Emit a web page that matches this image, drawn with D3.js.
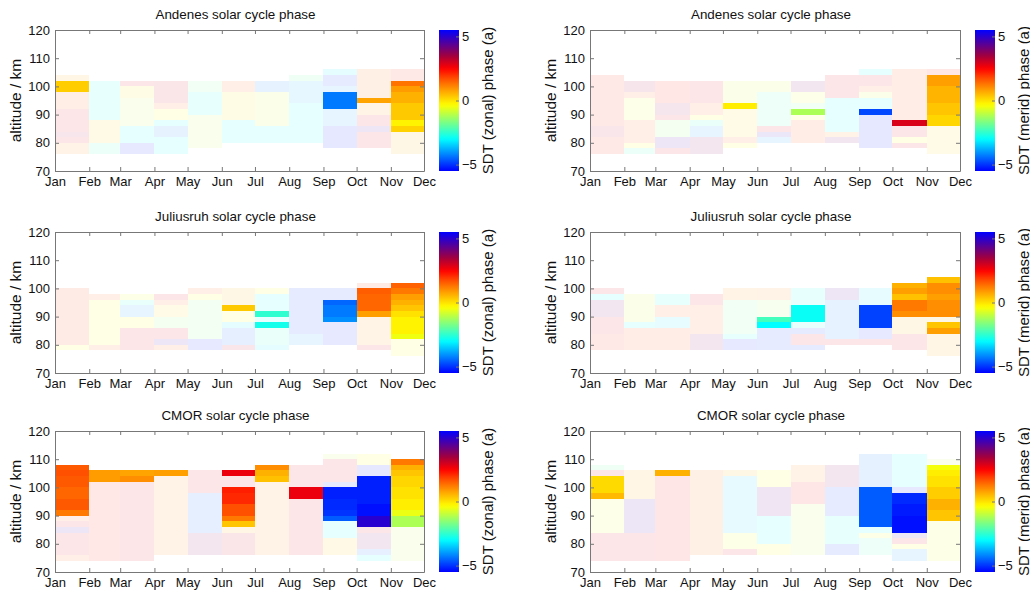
<!DOCTYPE html>
<html>
<head>
<meta charset="UTF-8">
<title>solar cycle phase</title>
<script src="https://d3js.org/d3.v7.min.js"></script>
<style>
  body { margin: 0; background: #fff; font-family: "Liberation Sans", Arial, sans-serif; }
  .axis path, .axis line { stroke: #777; }
  .axis text { fill: #111; font-size: 13px; font-family: "Liberation Sans", Arial, sans-serif; }
  .title { font-size: 13.4px; fill: #111; }
  .label { font-size: 15.5px; fill: #111; }
  .cblabel { font-size: 15px; fill: #111; }
</style>
</head>
<body>
<div id="chart"></div>
<script>
const months = ["Jan", "Feb", "Mar", "Apr", "May", "Jun", "Jul", "Aug", "Sep", "Oct", "Nov", "Dec"];
const altTicks = [70, 80, 90, 100, 110, 120];
const phaseTicks = [-5, 0, 5];

// one list per month column (Jan-Feb ... Nov-Dec): [alt low, alt high, phase (a), significant]
const andenesZonal = [
  [[76,80,1.2,0],[80,82,2.8,0],[82,84,3.3,0],[84,92,2.8,0],[92,98,1.6,0],[98,102,0.25,1],[102,104,0.8,0]],
  [[76,80,-2.3,0],[80,88,0.3,0],[88,102,-2.8,0]],
  [[76,80,-5.2,0],[80,86,-3.0,0],[86,96,-1.0,0],[96,100,0.0,0],[100,102,2.8,0]],
  [[76,82,-3.0,0],[82,86,-4.2,0],[86,88,-3.0,0],[88,92,-0.3,0],[92,94,1.5,0],[94,102,3.0,0]],
  [[78,90,-1.0,0],[90,98,-2.8,0],[98,102,-1.8,0]],
  [[80,88,-3.0,0],[88,98,0.0,0],[98,102,1.5,0]],
  [[80,86,-3.0,0],[86,98,-0.8,0],[98,102,-4.3,0]],
  [[80,94,-3.0,0],[94,102,-3.8,0],[102,104,-2.0,0]],
  [[78,86,-5.3,0],[86,92,-4.0,0],[92,98,-4.3,1],[98,100,-4.0,0],[100,104,-5.0,0],[104,106,-3.2,0]],
  [[78,84,2.8,0],[84,86,4.4,0],[86,90,2.8,0],[90,94,1.0,0],[94,96,0.75,1],[96,106,1.4,0]],
  [[76,84,0.6,0],[84,86,0.2,1],[86,88,-0.2,1],[88,94,0.3,1],[94,98,0.6,1],[98,100,0.85,1],[100,102,1.3,1],[102,106,2.2,0]]
];
const andenesMerid = [
  [[76,82,2.2,0],[82,86,3.2,0],[86,104,2.2,0]],
  [[76,78,-2.3,0],[78,80,-0.3,0],[80,88,1.5,0],[88,96,-0.6,0],[96,98,1.5,0],[98,102,3.5,0]],
  [[76,78,2.8,0],[78,82,4.6,0],[82,88,-1.5,0],[88,90,2.8,0],[90,94,3.6,0],[94,102,2.4,0]],
  [[76,82,3.8,0],[82,86,-4.0,0],[86,88,-2.5,0],[88,90,-0.3,0],[90,94,1.5,0],[94,102,2.8,0]],
  [[78,80,-0.3,0],[80,82,1.5,0],[82,92,0.2,0],[92,94,-0.15,1],[94,102,-0.8,0]],
  [[80,82,-4.0,0],[82,84,4.8,0],[84,86,2.8,0],[86,98,-2.2,0],[98,102,-0.8,0]],
  [[80,88,1.8,0],[88,90,-0.3,0],[90,92,-1.2,1],[92,94,-1.8,0],[94,98,-0.6,0],[98,102,4.0,0]],
  [[80,82,4.0,0],[82,84,1.2,0],[84,96,-3.0,0],[96,104,2.8,0]],
  [[78,90,-5.3,0],[90,92,-4.8,1],[92,96,-3.0,0],[96,98,-0.8,0],[98,100,1.5,0],[100,104,2.8,0],[104,106,-3.0,0]],
  [[78,80,2.8,0],[80,82,-0.3,0],[82,86,2.8,0],[86,88,2.9,1],[88,106,1.8,0]],
  [[76,86,0.2,0],[86,90,0.15,1],[90,94,0.35,1],[94,100,0.55,1],[100,104,0.8,1],[104,106,2.4,0]]
];
const juliusruhZonal = [
  [[78,80,-0.3,0],[80,100,2.0,0]],
  [[78,80,1.5,0],[80,96,-0.3,0],[96,98,1.5,0]],
  [[78,86,2.8,0],[86,90,-0.3,0],[90,94,-4.0,0],[94,96,-2.6,0],[96,98,-0.5,0]],
  [[78,80,1.5,0],[80,82,4.6,0],[82,86,2.8,0],[86,90,-1.5,0],[90,94,0.2,0],[94,96,1.5,0],[96,98,2.8,0]],
  [[78,82,-5.2,0],[82,96,-1.6,0],[96,98,-0.3,0],[98,100,1.5,0]],
  [[78,80,3.2,0],[80,86,-4.6,0],[86,88,-3.2,0],[88,92,-0.3,0],[92,94,0.3,1],[94,100,0.6,0]],
  [[78,80,-3.2,0],[80,86,-2.5,0],[86,88,-2.8,1],[88,90,-3.0,0],[90,92,-2.5,1],[92,98,-3.0,0],[98,100,-0.3,0]],
  [[80,84,-4.0,0],[84,100,-5.0,0]],
  [[80,88,-5.2,0],[88,90,-4.1,1],[90,94,-4.3,1],[94,96,-4.5,1],[96,100,-5.0,0]],
  [[78,80,2.8,0],[80,90,1.0,0],[90,92,0.8,1],[92,98,1.45,1],[98,100,1.55,1],[100,102,2.0,0]],
  [[76,82,-0.4,0],[82,84,-0.5,1],[84,90,-0.2,1],[90,92,0.0,1],[92,94,0.35,1],[94,96,0.6,1],[96,98,0.8,1],[98,100,1.25,1],[100,102,1.5,1]]
];
const juliusruhMerid = [
  [[78,84,2.2,0],[84,90,2.8,0],[90,96,4.0,0],[96,98,-3.0,0],[98,100,2.8,0]],
  [[78,86,1.8,0],[86,88,-3.0,0],[88,98,-0.8,0]],
  [[78,86,1.8,0],[86,90,-3.3,0],[90,94,1.5,0],[94,98,-2.8,0]],
  [[78,84,3.8,0],[84,94,1.5,0],[94,98,2.8,0]],
  [[78,82,-5.2,0],[82,84,-2.8,0],[84,96,-1.8,0],[96,100,1.0,0]],
  [[78,86,-5.0,0],[86,88,-3.0,1],[88,90,-2.3,1],[90,96,-1.2,0],[96,100,1.2,0]],
  [[78,80,-5.0,0],[80,84,2.8,0],[84,86,-5.0,0],[86,88,-2.8,0],[88,94,-2.9,1],[94,100,-2.8,0]],
  [[80,82,2.8,0],[82,96,-4.3,0],[96,100,4.4,0]],
  [[80,82,2.8,0],[82,86,-5.2,0],[86,94,-4.85,1],[94,100,-3.3,0]],
  [[78,84,2.8,0],[84,90,0.6,0],[90,92,1.0,1],[92,96,1.25,1],[96,98,0.4,1],[98,100,0.8,1],[100,102,0.6,1]],
  [[76,84,0.8,0],[84,86,0.8,1],[86,88,0.35,1],[88,90,0.6,0],[90,96,1.0,1],[96,98,0.8,1],[98,102,1.0,1],[102,104,0.4,1]]
];
const cmorZonal = [
  [[74,76,1.5,0],[76,84,2.8,0],[84,86,4.6,0],[86,88,2.8,0],[88,90,1.5,0],[90,92,1.25,1],[92,96,1.6,1],[96,100,1.45,1],[100,104,1.6,1],[104,106,1.7,1],[106,108,1.6,1]],
  [[74,102,2.3,0],[102,106,0.85,1]],
  [[74,102,2.8,0],[102,104,1.0,1],[104,106,0.75,1]],
  [[76,104,1.2,0],[104,106,0.8,1]],
  [[76,84,3.8,0],[84,98,-4.6,0],[98,106,2.8,0]],
  [[76,84,3.0,0],[84,86,0.8,0],[86,88,0.35,1],[88,90,1.25,1],[90,94,1.7,1],[94,98,2.1,1],[98,100,2.2,1],[100,104,2.8,0],[104,106,2.7,1]],
  [[76,102,1.2,0],[102,104,0.4,1],[104,106,0.6,1],[106,108,1.0,1]],
  [[76,96,2.8,0],[96,100,2.7,1],[100,108,2.8,0]],
  [[76,82,0.4,0],[82,88,-3.0,0],[88,90,-4.6,1],[90,92,-5.0,1],[92,96,-5.1,1],[96,100,-5.2,1],[100,102,-5.0,0],[102,110,2.8,0],[110,112,-1.0,0]],
  [[74,76,-3.0,0],[76,78,-4.5,0],[78,84,4.0,0],[84,86,2.8,0],[86,90,5.0,1],[90,94,-5.35,1],[94,104,-5.2,1],[104,108,-5.3,0],[108,112,-0.3,0]],
  [[74,86,-1.0,0],[86,90,-1.2,1],[90,92,-0.55,1],[92,96,-0.15,1],[96,100,0.0,1],[100,104,0.15,1],[104,106,0.35,1],[106,108,0.6,1],[108,110,1.25,1]]
];
const cmorMerid = [
  [[74,84,2.8,0],[84,96,-0.6,0],[96,98,0.5,1],[98,104,0.1,1],[104,106,2.8,0],[106,108,-2.0,0]],
  [[74,84,2.8,0],[84,96,4.6,0],[96,106,0.8,0]],
  [[74,104,2.6,0],[104,106,0.6,1]],
  [[76,106,1.4,0]],
  [[76,78,2.8,0],[78,84,-0.5,0],[84,104,-3.5,0],[104,106,0.6,0]],
  [[76,80,-0.3,0],[80,90,-3.0,0],[90,100,4.2,0],[100,106,-0.3,0]],
  [[76,94,-1.0,0],[94,102,2.5,0],[102,108,1.2,0]],
  [[76,80,-5.0,0],[80,90,-2.8,0],[90,100,-5.0,0],[100,108,3.8,0]],
  [[76,82,-2.2,0],[82,84,-0.5,0],[84,86,-3.0,0],[86,100,-4.6,1],[100,112,-4.4,0]],
  [[74,78,-4.0,0],[78,80,-0.3,0],[80,82,2.8,0],[82,84,4.6,0],[84,90,-5.35,1],[90,94,-5.25,1],[94,98,-5.1,1],[98,100,-5.2,0],[100,112,-3.0,0]],
  [[74,88,-0.5,0],[88,92,0.35,1],[92,96,0.6,1],[96,100,0.25,1],[100,104,0.0,1],[104,106,-0.15,1],[106,108,-0.45,1],[108,110,-1.0,0]]
];

const panels = [
  {title: "Andenes solar cycle phase", comp: "zonal", data: andenesZonal, row: 0, col: 0},
  {title: "Andenes solar cycle phase", comp: "merid", data: andenesMerid, row: 0, col: 1},
  {title: "Juliusruh solar cycle phase", comp: "zonal", data: juliusruhZonal, row: 1, col: 0},
  {title: "Juliusruh solar cycle phase", comp: "merid", data: juliusruhMerid, row: 1, col: 1},
  {title: "CMOR solar cycle phase", comp: "zonal", data: cmorZonal, row: 2, col: 0},
  {title: "CMOR solar cycle phase", comp: "merid", data: cmorMerid, row: 2, col: 1}
];

// cyclic jet-like colour map, -5.5 .. 5.5 years
const cmap = d3.scaleLinear()
  .domain([-5.5, -3.0, -1.65, -0.35, 0.8, 1.7, 2.5, 3.5, 4.5, 5.5])
  .range(["#0000ff", "#00ffff", "#80ff80", "#ffff00", "#ffa000", "#ff5000", "#ff0000", "#a00040", "#5000a0", "#0000ff"])
  .clamp(true);
const faded = 0.1;

const colX = [55, 590], colW = [369, 370];
const rowY = [30, 232, 431], plotH = 141;
const cbX = [439, 975], cbW = 20;

const svg = d3.select("#chart").append("svg")
  .attr("width", 1030).attr("height", 591);

const grad = svg.append("defs").append("linearGradient")
  .attr("id", "cbGrad").attr("x1", 0).attr("y1", 1).attr("x2", 0).attr("y2", 0);
d3.range(0, 1.0001, 0.02).forEach(t => {
  grad.append("stop").attr("offset", t).attr("stop-color", cmap(-5.5 + 11 * t));
});

const monthDates = months.map((m, i) => new Date(Date.UTC(2001, i, 1)));

panels.forEach(p => {
  const w = colW[p.col], h = plotH;
  const g = svg.append("g").attr("transform", `translate(${colX[p.col]},${rowY[p.row]})`);

  const x = d3.scaleUtc().domain([monthDates[0], monthDates[11]]).range([0, w]);
  const y = d3.scaleLinear().domain([70, 120]).range([h, 0]);

  const cells = [];
  p.data.forEach((col, i) => col.forEach(s => cells.push({i, lo: s[0], hi: s[1], v: s[2], sig: s[3]})));

  g.selectAll("rect.cell").data(cells).enter().append("rect")
    .attr("class", "cell")
    .attr("x", d => x(monthDates[d.i]))
    .attr("width", d => x(monthDates[d.i + 1]) - x(monthDates[d.i]))
    .attr("y", d => y(d.hi))
    .attr("height", d => y(d.lo) - y(d.hi))
    .attr("shape-rendering", "crispEdges")
    .attr("fill", d => d.sig ? cmap(d.v) : d3.interpolateRgb("#ffffff", cmap(d.v))(faded));

  g.append("g").attr("class", "axis").attr("transform", `translate(0,${h})`)
    .call(d3.axisBottom(x).tickValues(monthDates).tickFormat((d, i) => months[i])
      .tickSizeInner(-4).tickSizeOuter(0).tickPadding(6));
  g.append("g").attr("class", "axis")
    .call(d3.axisTop(x).tickValues(monthDates).tickFormat("").tickSizeInner(-4).tickSizeOuter(0));
  g.append("g").attr("class", "axis")
    .call(d3.axisLeft(y).tickValues(altTicks).tickSizeInner(-4).tickSizeOuter(0).tickPadding(5));
  g.append("g").attr("class", "axis").attr("transform", `translate(${w},0)`)
    .call(d3.axisRight(y).tickValues(altTicks).tickFormat("").tickSizeInner(-4).tickSizeOuter(0));

  g.append("text").attr("class", "title")
    .attr("x", w / 2 - 4).attr("y", -11)
    .attr("text-anchor", "middle")
    .text(p.title);

  g.append("text").attr("class", "label")
    .attr("transform", `translate(-39,${h / 2}) rotate(-90)`)
    .attr("text-anchor", "middle").attr("dy", "0.35em")
    .text("altitude / km");

  // colour bar
  const cb = svg.append("g").attr("transform", `translate(${cbX[p.col]},${rowY[p.row]})`);
  const cy = d3.scaleLinear().domain([-5.5, 5.5]).range([h, 0]);
  cb.append("rect").attr("width", cbW).attr("height", h).attr("fill", "url(#cbGrad)");
  cb.append("g").attr("class", "axis").attr("transform", `translate(${cbW},0)`)
    .call(d3.axisRight(cy).tickValues(phaseTicks).tickSizeInner(-3).tickSizeOuter(0).tickPadding(3));
  cb.select(".domain").remove();
  cb.append("text").attr("class", "cblabel")
    .attr("transform", `translate(49,${h / 2}) rotate(-90)`)
    .attr("text-anchor", "middle").attr("dy", "0.35em")
    .text(`SDT (${p.comp}) phase (a)`);
});
</script>
</body>
</html>
